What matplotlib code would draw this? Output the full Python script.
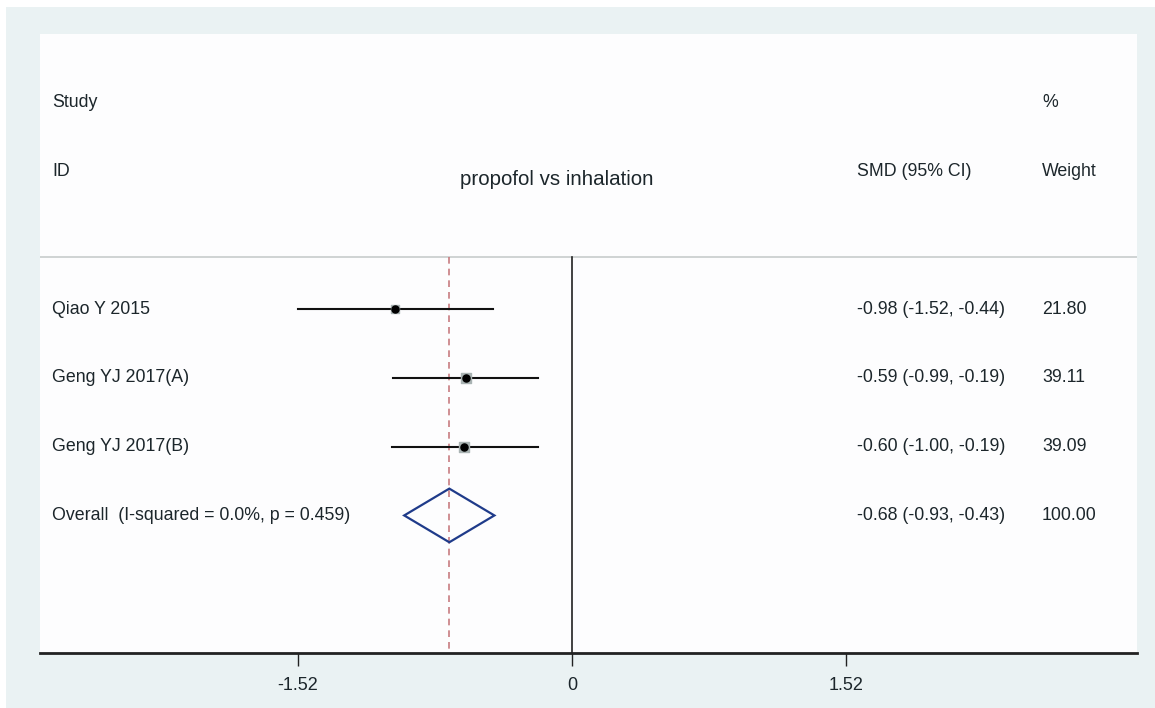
import numpy as np
import matplotlib.pyplot as plt
from matplotlib.patches import Rectangle, Polygon

studies = ['Qiao Y 2015', 'Geng YJ 2017(A)', 'Geng YJ 2017(B)']
smd = [-0.98, -0.59, -0.60]
ci_lo = [-1.52, -0.99, -1.00]
ci_hi = [-0.44, -0.19, -0.19]
weights = [21.80, 39.11, 39.09]

overall_label = 'Overall  (I-squared = 0.0%, p = 0.459)'
overall_smd = -0.68
overall_lo = -0.93
overall_hi = -0.43
overall_weight = 100.00

xticks = [-1.52, 0, 1.52]
xtick_labels = ['-1.52', '0', '1.52']

txt = '#1c262b'
font = ['Liberation Sans', 'DejaVu Sans']

fig = plt.figure(figsize=(11.55, 7.08), dpi=100)
fig.patch.set_facecolor('white')
fig.patches.append(Rectangle((6 / 1155, 0), 1 - 6 / 1155, 1 - 7 / 708,
                             transform=fig.transFigure, facecolor='#eaf2f3',
                             edgecolor='none', zorder=-10))

ax = fig.add_axes([40 / 1155, 55 / 708, 1097 / 1155, 619 / 708])
ax.set_facecolor('#fdfdfe')
ax.set_xlim(-2.95, 3.134)
ax.set_ylim(6, -3)

for s in ['top', 'left', 'right']:
    ax.spines[s].set_visible(False)
ax.spines['bottom'].set_linewidth(2)
ax.spines['bottom'].set_color('#222222')
ax.set_yticks([])
ax.set_xticks(xticks)
ax.set_xticklabels(xtick_labels, fontsize=13, color=txt, family=font)
ax.tick_params(axis='x', length=9, width=1, direction='out', pad=8, colors='#222222')
for lab in ax.get_xticklabels():
    lab.set_color(txt)

# separator under header
ax.plot([-2.95, 3.134], [0.243, 0.243], color='#c8cccc', lw=1.2, zorder=1)

# null line and overall dashed line
ax.plot([0, 0], [0.243, 6], color='#222222', lw=1.2, zorder=2)
ax.plot([overall_smd, overall_smd], [0.243, 6], color='#c87c80', lw=1.2,
        ls=(0, (4, 3)), zorder=2)

rows = np.arange(1, len(studies) + 1)
for r, m, lo, hi, w in zip(rows, smd, ci_lo, ci_hi, weights):
    ax.plot([lo, hi], [r, r], color='#111111', lw=1.5, zorder=3)
    ax.scatter([m], [r], marker='s', s=w * 1.6, color='#a9b3b3', zorder=4)
    ax.scatter([m], [r], marker='o', s=26, color='black', zorder=5)

r_all = len(studies) + 1
ax.add_patch(Polygon([[overall_lo, r_all], [overall_smd, r_all - 0.39],
                      [overall_hi, r_all], [overall_smd, r_all + 0.39]],
                     closed=True, fill=False, edgecolor='#1f3b8a', lw=1.6, zorder=4))

# header text
x_left = -2.884
x_ci = 1.58
x_w = 2.607
fs = 12.8
ax.text(x_left, -2, 'Study', fontsize=fs, color=txt, family=font, va='center')
ax.text(x_left, -1, 'ID', fontsize=fs, color=txt, family=font, va='center')
ax.text(-0.083, -0.88, 'propofol vs inhalation', fontsize=14.8, color=txt,
        family=font, va='center', ha='center')
ax.text(x_ci, -1, 'SMD (95% CI)', fontsize=fs, color=txt, family=font, va='center')
ax.text(x_w, -2, '%', fontsize=fs, color=txt, family=font, va='center')
ax.text(x_w, -1, 'Weight', fontsize=fs, color=txt, family=font, va='center')

labels = studies + [overall_label]
ests = smd + [overall_smd]
los = ci_lo + [overall_lo]
his = ci_hi + [overall_hi]
ws = weights + [overall_weight]
for i, (lab, m, lo, hi, w) in enumerate(zip(labels, ests, los, his, ws)):
    r = i + 1
    ax.text(x_left, r, lab, fontsize=fs, color=txt, family=font, va='center')
    ax.text(x_ci, r, '%.2f (%.2f, %.2f)' % (m, lo, hi), fontsize=fs, color=txt,
            family=font, va='center')
    ax.text(x_w, r, '%.2f' % w, fontsize=fs, color=txt, family=font, va='center')

fig.savefig('out.png', dpi=100, facecolor=fig.get_facecolor())
